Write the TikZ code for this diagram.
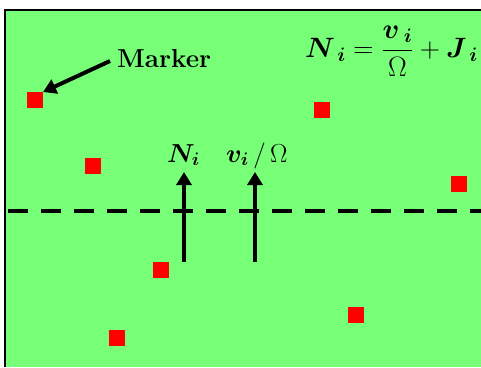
\RequirePackage{fix-cm}
\documentclass[tikz,border=0pt]{standalone}
\usepackage{amsmath}
\usepackage{bm}
\usetikzlibrary{arrows.meta}
\definecolor{bggreen}{RGB}{120,255,120}
\definecolor{mred}{RGB}{255,0,0}
\tikzset{
  marker/.style={fill=mred, draw=none, minimum size=16pt, inner sep=0pt, outer sep=0pt},
  bigarrow/.style={line width=4pt, -{Triangle[width=15pt,length=13pt]}},
  lbl/.style={inner sep=0pt, font=\fontsize{26}{30}\selectfont},
  eqlbl/.style={inner sep=0pt, font=\fontsize{28}{32}\selectfont}
}
\begin{document}
\begin{tikzpicture}[x=1pt,y=-1pt]
\useasboundingbox (0,0) rectangle (481,367);
\fill[bggreen] (5,10) rectangle (481,367);
\draw[line width=2pt] (481,10) -- (5,10) -- (5,367);
% dashed line
\draw[line width=4pt, dash pattern=on 20pt off 13pt] (8,211) -- (481,211);
% markers
\node[marker] (m1) at (35,100) {};
\node[marker] (m2) at (322,110) {};
\node[marker] (m3) at (93,166) {};
\node[marker] (m4) at (459,184) {};
\node[marker] (m5) at (161,270) {};
\node[marker] (m6) at (356,315) {};
\node[marker] (m7) at (117,338) {};
% Marker label
\node[inner sep=0pt, anchor=base west, font=\fontsize{26}{30}\selectfont\bfseries] (mk) at (117,67) {Marker};
\coordinate (ms) at (110,61);
\draw[bigarrow] (ms) -- (m1.north east);
% formula
\node[eqlbl, anchor=base west] (eq) at (305,57) {$\boldsymbol{N}_{\;\boldsymbol{i}} = \dfrac{\boldsymbol{v}_{\;\boldsymbol{i}}}{\Omega} + \boldsymbol{J}_{\;\boldsymbol{i}}$};
% labels
\node[lbl, anchor=base west] (nl) at (167,162) {$\boldsymbol{N}_{\boldsymbol{i}}$};
\node[lbl, anchor=base west] (vl) at (226,162) {$\boldsymbol{v}_{\boldsymbol{i}}\,/\,\Omega$};
% arrows
\coordinate (nb) at (184,262);
\coordinate (nt) at (184,172);
\coordinate (vb) at (255,262);
\coordinate (vt) at (255,172);
\draw[bigarrow] (nb) -- (nt);
\draw[bigarrow] (vb) -- (vt);
\end{tikzpicture}
\end{document}
